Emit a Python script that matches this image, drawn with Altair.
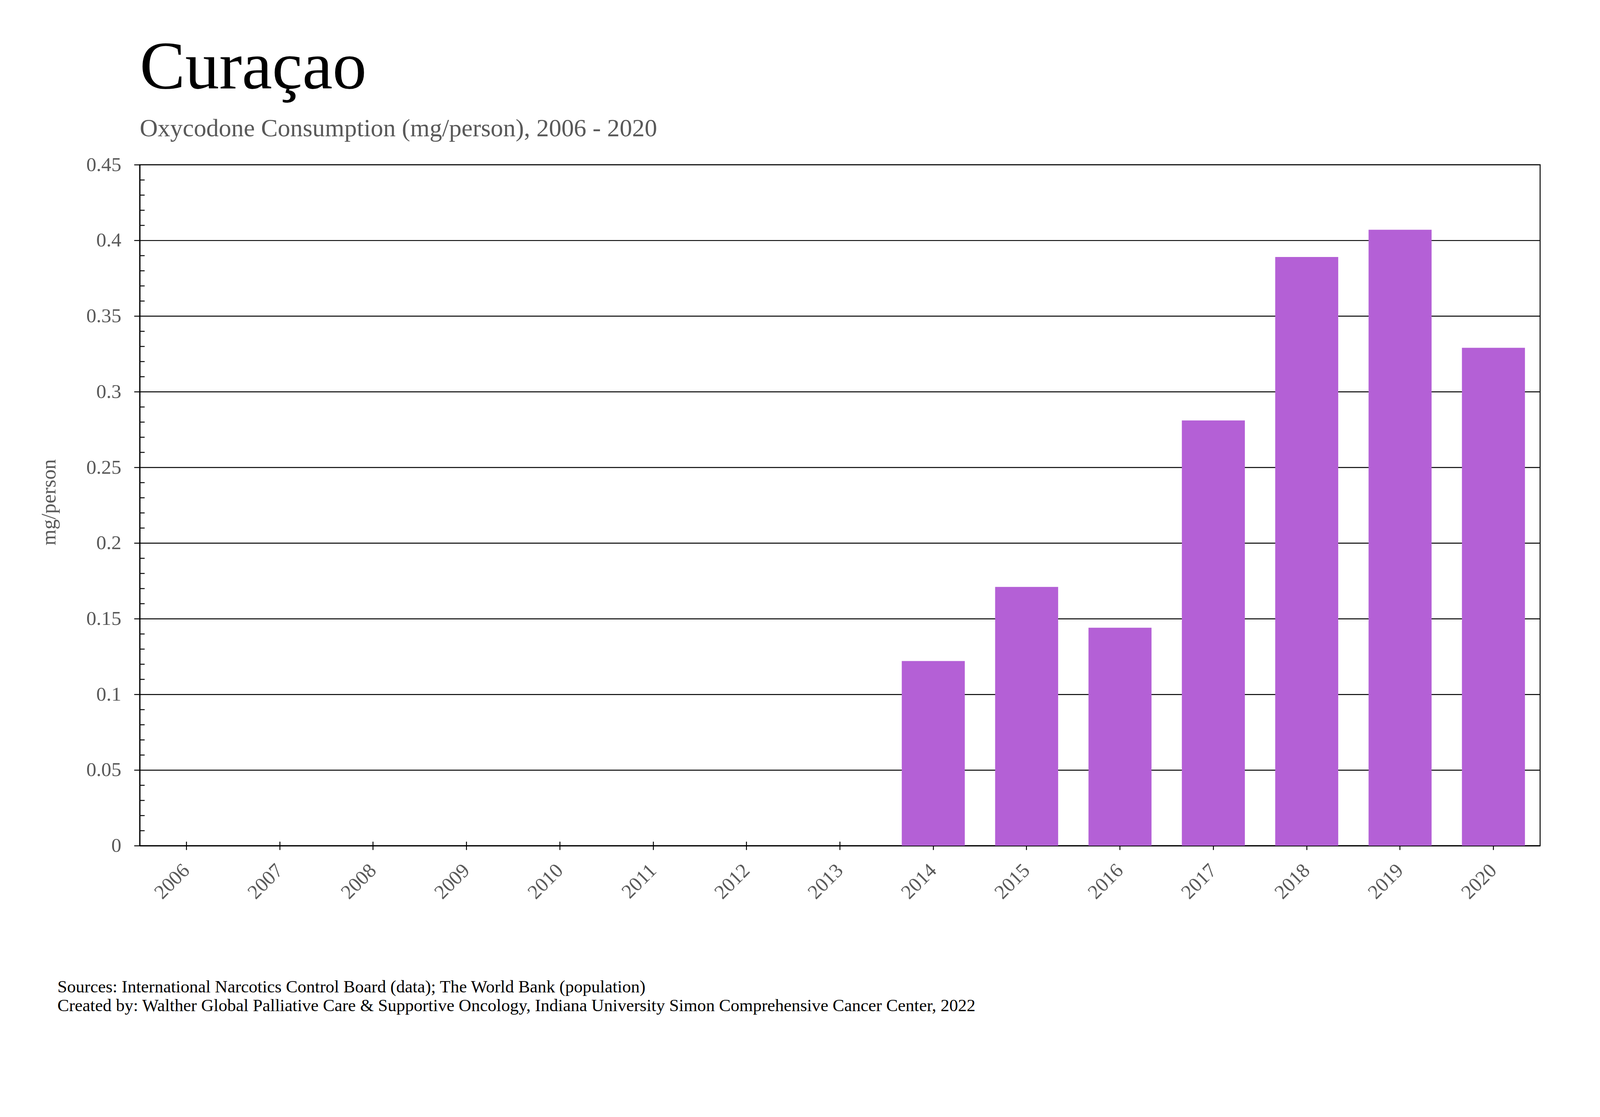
import altair as alt
import pandas as pd

# ---- data ----
years = ["2006", "2007", "2008", "2009", "2010", "2011", "2012", "2013",
         "2014", "2015", "2016", "2017", "2018", "2019", "2020"]
values = [0, 0, 0, 0, 0, 0, 0, 0,
          0.122, 0.171, 0.144, 0.281, 0.389, 0.407, 0.329]
y_major = [0, 0.05, 0.1, 0.15, 0.2, 0.25, 0.3, 0.35, 0.4, 0.45]
y_minor = [0.01, 0.02, 0.03, 0.04, 0.06, 0.07, 0.08, 0.09,
           0.11, 0.12, 0.13, 0.14, 0.16, 0.17, 0.18, 0.19,
           0.21, 0.22, 0.23, 0.24, 0.26, 0.27, 0.28, 0.29,
           0.31, 0.32, 0.33, 0.34, 0.36, 0.37, 0.38, 0.39,
           0.41, 0.42, 0.43, 0.44]

title_text = "Curaçao"
subtitle_text = "Oxycodone Consumption (mg/person), 2006 - 2020"
y_title = "mg/person"
footer = ["Sources: International Narcotics Control Board (data); The World Bank (population)",
          "Created by: Walther Global Palliative Care & Supportive Oncology, Indiana University Simon Comprehensive Cancer Center, 2022"]

df = pd.DataFrame({"year": years, "value": values})

FONT = "Liberation Serif"
GRAY = "#595959"
PURPLE = "#b460d6"
W, H = 3701, 1800

base = alt.Chart(df)

bars = base.mark_bar(color=PURPLE).encode(
    x=alt.X("year:N", sort=years,
            scale=alt.Scale(paddingInner=0.325, paddingOuter=0.1625),
            axis=alt.Axis(orient="bottom", title=footer, titleX=-218, titleY=387,
                          titleAlign="left", titleAnchor="start", titleAngle=0,
                          titleBaseline="alphabetic", titleFont=FONT, titleFontSize=46,
                          titleFontWeight="normal", titleColor="black", titleLineHeight=50,
                          labelAngle=315, labelAlign="right", labelBaseline="middle",
                          labelPadding=46, labelFont=FONT, labelFontSize=53,
                          labelColor=GRAY, labelOverlap=False,
                          tickSize=11, tickWidth=2.5, tickColor="black",
                          domainColor="black", domainWidth=3, grid=False)),
    y=alt.Y("value:Q",
            scale=alt.Scale(domain=[0, 0.45], nice=False, zero=True),
            axis=alt.Axis(orient="left", values=y_major, format="~g",
                          title=y_title, titleX=-223, titleY=892, titleAngle=270,
                          titleAlign="center", titleBaseline="alphabetic",
                          titleFont=FONT, titleFontSize=54, titleFontWeight="normal",
                          titleColor=GRAY,
                          labelPadding=34, labelFont=FONT, labelFontSize=53,
                          labelColor=GRAY, labelBaseline="middle",
                          tickSize=15, tickWidth=2.5, tickColor="black",
                          domainColor="black", domainWidth=3,
                          grid=True, gridColor="black", gridWidth=2.5)),
)

minor = base.mark_bar(opacity=0).encode(
    x=alt.X("year:N", sort=years,
            axis=alt.Axis(orient="top", offset=-H, labels=False, domain=False,
                          grid=False, title=None, tickSize=11, tickWidth=2.5,
                          tickColor="black")),
    y=alt.Y("value:Q",
            axis=alt.Axis(orient="right", offset=-W, values=y_minor, labels=False,
                          domain=False, grid=False, title=None, tickSize=12.5,
                          tickWidth=2.5, tickColor="black")),
)

chart = alt.layer(bars, minor).resolve_axis(
    x="independent", y="independent"
).properties(
    width=W, height=H,
    title=alt.TitleParams(text=title_text, subtitle=subtitle_text, anchor="start",
                          frame="group", font=FONT, fontSize=180, fontWeight="normal",
                          color="black", subtitleFont=FONT, subtitleFontSize=66,
                          subtitleColor=GRAY, subtitlePadding=37, offset=34),
    autosize=alt.AutoSizeParams(type="none"),
    padding={"left": 361, "top": 382, "right": 150, "bottom": 600},
    background="white",
).configure_view(stroke="black", strokeWidth=2.5)

chart.save("out.html", embed_options={"renderer": "svg", "actions": False})
